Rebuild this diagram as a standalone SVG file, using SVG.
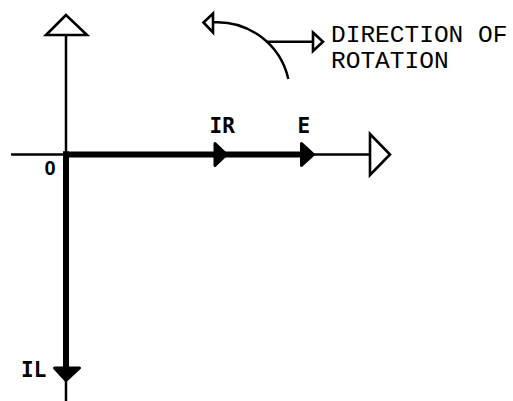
<svg xmlns="http://www.w3.org/2000/svg" width="513" height="401" viewBox="0 0 513 401">
<style>
.thin{stroke:#000;stroke-width:2.5;fill:none}
.thick{stroke:#000;stroke-width:6;fill:none}
.open{stroke:#000;stroke-width:2.6;fill:#fff;stroke-linejoin:miter}
.solid{stroke:#000;stroke-width:3;fill:#000;stroke-linejoin:round}
.lbl{font-family:"DejaVu Sans Mono",monospace;font-weight:bold;font-size:21px;fill:#000}
.zero{font-family:"Liberation Sans",Arial,sans-serif;font-weight:bold;font-size:20px;fill:#000}
.note{font-family:"Liberation Mono","Courier New",monospace;font-size:24.5px;fill:#000}
</style>
<rect width="513" height="401" fill="#fff"/>
<g id="connectors">
<line class="thin" x1="11" y1="154.5" x2="370" y2="154.5"/>
<line class="thin" x1="66" y1="35" x2="66" y2="401"/>
<line class="thick" x1="63" y1="154.5" x2="306" y2="154.5"/>
<line class="thick" x1="66" y1="151.5" x2="66" y2="370"/>
</g>
<g id="y-axis-arrow"><polygon class="open" points="66,15 46,35 87,35"/></g>
<g id="x-axis-arrow"><polygon class="open" points="370,134 370,175 390,154.5"/></g>
<g id="origin"><text class="zero" x="44.5" y="175">0</text></g>
<g id="IR">
<polygon class="solid" points="215,143.5 226.5,154.5 215,165.5"/>
<text class="lbl" x="209.5" y="133.3">IR</text>
</g>
<g id="E">
<polygon class="solid" points="301.5,143.5 313.5,154.5 301.5,165.5"/>
<text class="lbl" x="297.5" y="133.3">E</text>
</g>
<g id="IL">
<polygon class="solid" points="54.5,368 79.5,368 66,380.5"/>
<text class="lbl" x="21" y="377.3">IL</text>
</g>
<g id="rotation">
<path class="thin" d="M213,22.3 A73 73 0 0 1 288.3,79" stroke-width="3"/>
<polygon class="open" points="203.5,22.5 213,13.5 213,32.5"/>
<line class="thin" x1="266" y1="41.7" x2="313" y2="41.7"/>
<polygon class="open" points="313,32.5 313,51 323,41.7"/>
<text class="note" x="331" y="41.7">DIRECTION OF</text>
<text class="note" x="331" y="68.3">ROTATION</text>
</g>
</svg>
